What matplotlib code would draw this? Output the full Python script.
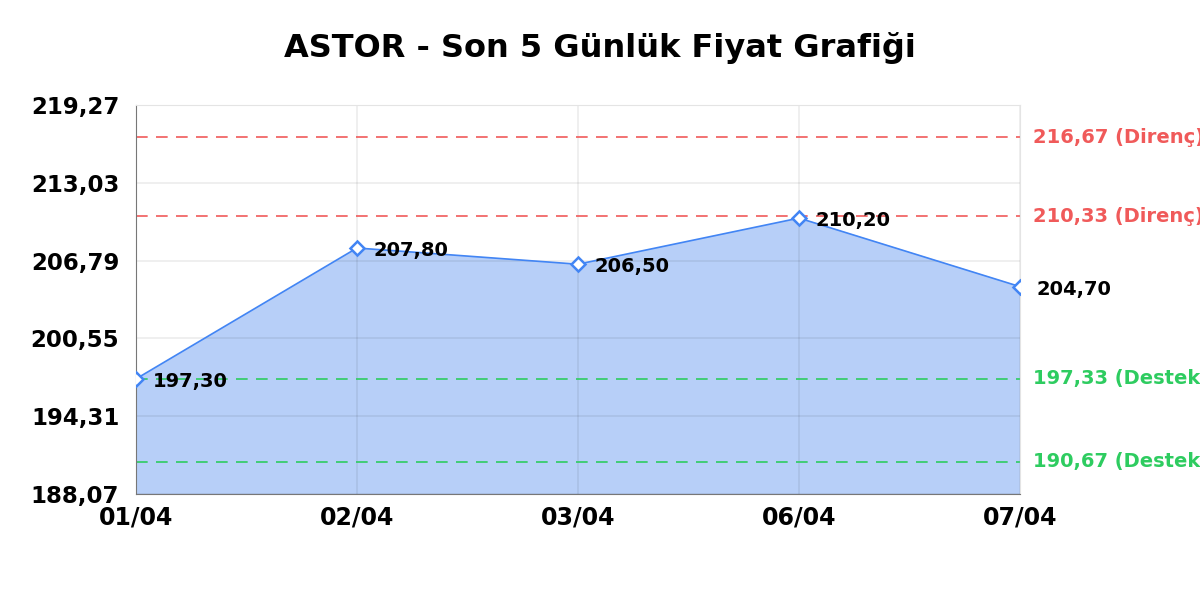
import numpy as np
import matplotlib
matplotlib.use("Agg")
from matplotlib import pyplot as plt

dates = ["01/04", "02/04", "03/04", "06/04", "07/04"]
prices = [197.30, 207.80, 206.50, 210.20, 204.70]
resistance = [216.67, 210.33]
support = [197.33, 190.67]
y_ticks = [188.07, 194.31, 200.55, 206.79, 213.03, 219.27]

def tr(v):
    return f"{v:.2f}".replace(".", ",")

plt.rcParams['font.family'] = ['DejaVu Sans']
fig = plt.figure(figsize=(12, 6), dpi=100)
ax = fig.add_axes([0.1133, 0.1767, 0.7367, 0.6483])
x = np.arange(len(dates))

ax.fill_between(x, prices, y_ticks[0], color="#b7cff8", zorder=1)
ax.plot(x, prices, color="#4285f4", lw=1.2, zorder=3)
ax.plot(x, prices, ls="none", marker="D", ms=7, mfc="white", mec="#4285f4", mew=1.8, zorder=4)
for xi, p in zip(x, prices):
    ax.annotate(tr(p), (xi, p), xytext=(12, -2), textcoords="offset points",
                ha="left", va="center", fontsize=14, fontweight="bold", color="black", zorder=5)

for r in resistance:
    ax.axhline(r, color="#f05a5a", ls=(0, (7, 5)), lw=1.2, zorder=2)
    ax.text(1.015, r, f"{tr(r)} (Direnç)", transform=ax.get_yaxis_transform(),
            ha="left", va="center", fontsize=14, fontweight="bold", color="#f05a5a", clip_on=False)
for s in support:
    ax.axhline(s, color="#2ecc60", ls=(0, (7, 5)), lw=1.2, zorder=2)
    ax.text(1.015, s, f"{tr(s)} (Destek)", transform=ax.get_yaxis_transform(),
            ha="left", va="center", fontsize=14, fontweight="bold", color="#2ecc60", clip_on=False)

ax.set_xlim(0, len(dates) - 1)
ax.set_ylim(y_ticks[0], y_ticks[-1])
ax.set_yticks(y_ticks)
ax.set_yticklabels([tr(v) for v in y_ticks], fontsize=16.5, fontweight="bold")
ax.set_xticks(x)
ax.set_xticklabels(dates, fontsize=17, fontweight="bold")
ax.tick_params(axis="y", length=0, pad=12)
ax.tick_params(axis="x", length=0, pad=8)
ax.grid(True, color="black", alpha=0.075, lw=1.2, zorder=1.5)
for side in ["top", "right"]:
    ax.spines[side].set_color("#e4e4e4")
for side in ["left", "bottom"]:
    ax.spines[side].set_color("#777777")

fig.text(0.5, 0.92, "ASTOR - Son 5 Günlük Fiyat Grafiği", ha="center", va="center",
         fontsize=23, fontweight="bold")

fig.savefig("out.png", dpi=100)
